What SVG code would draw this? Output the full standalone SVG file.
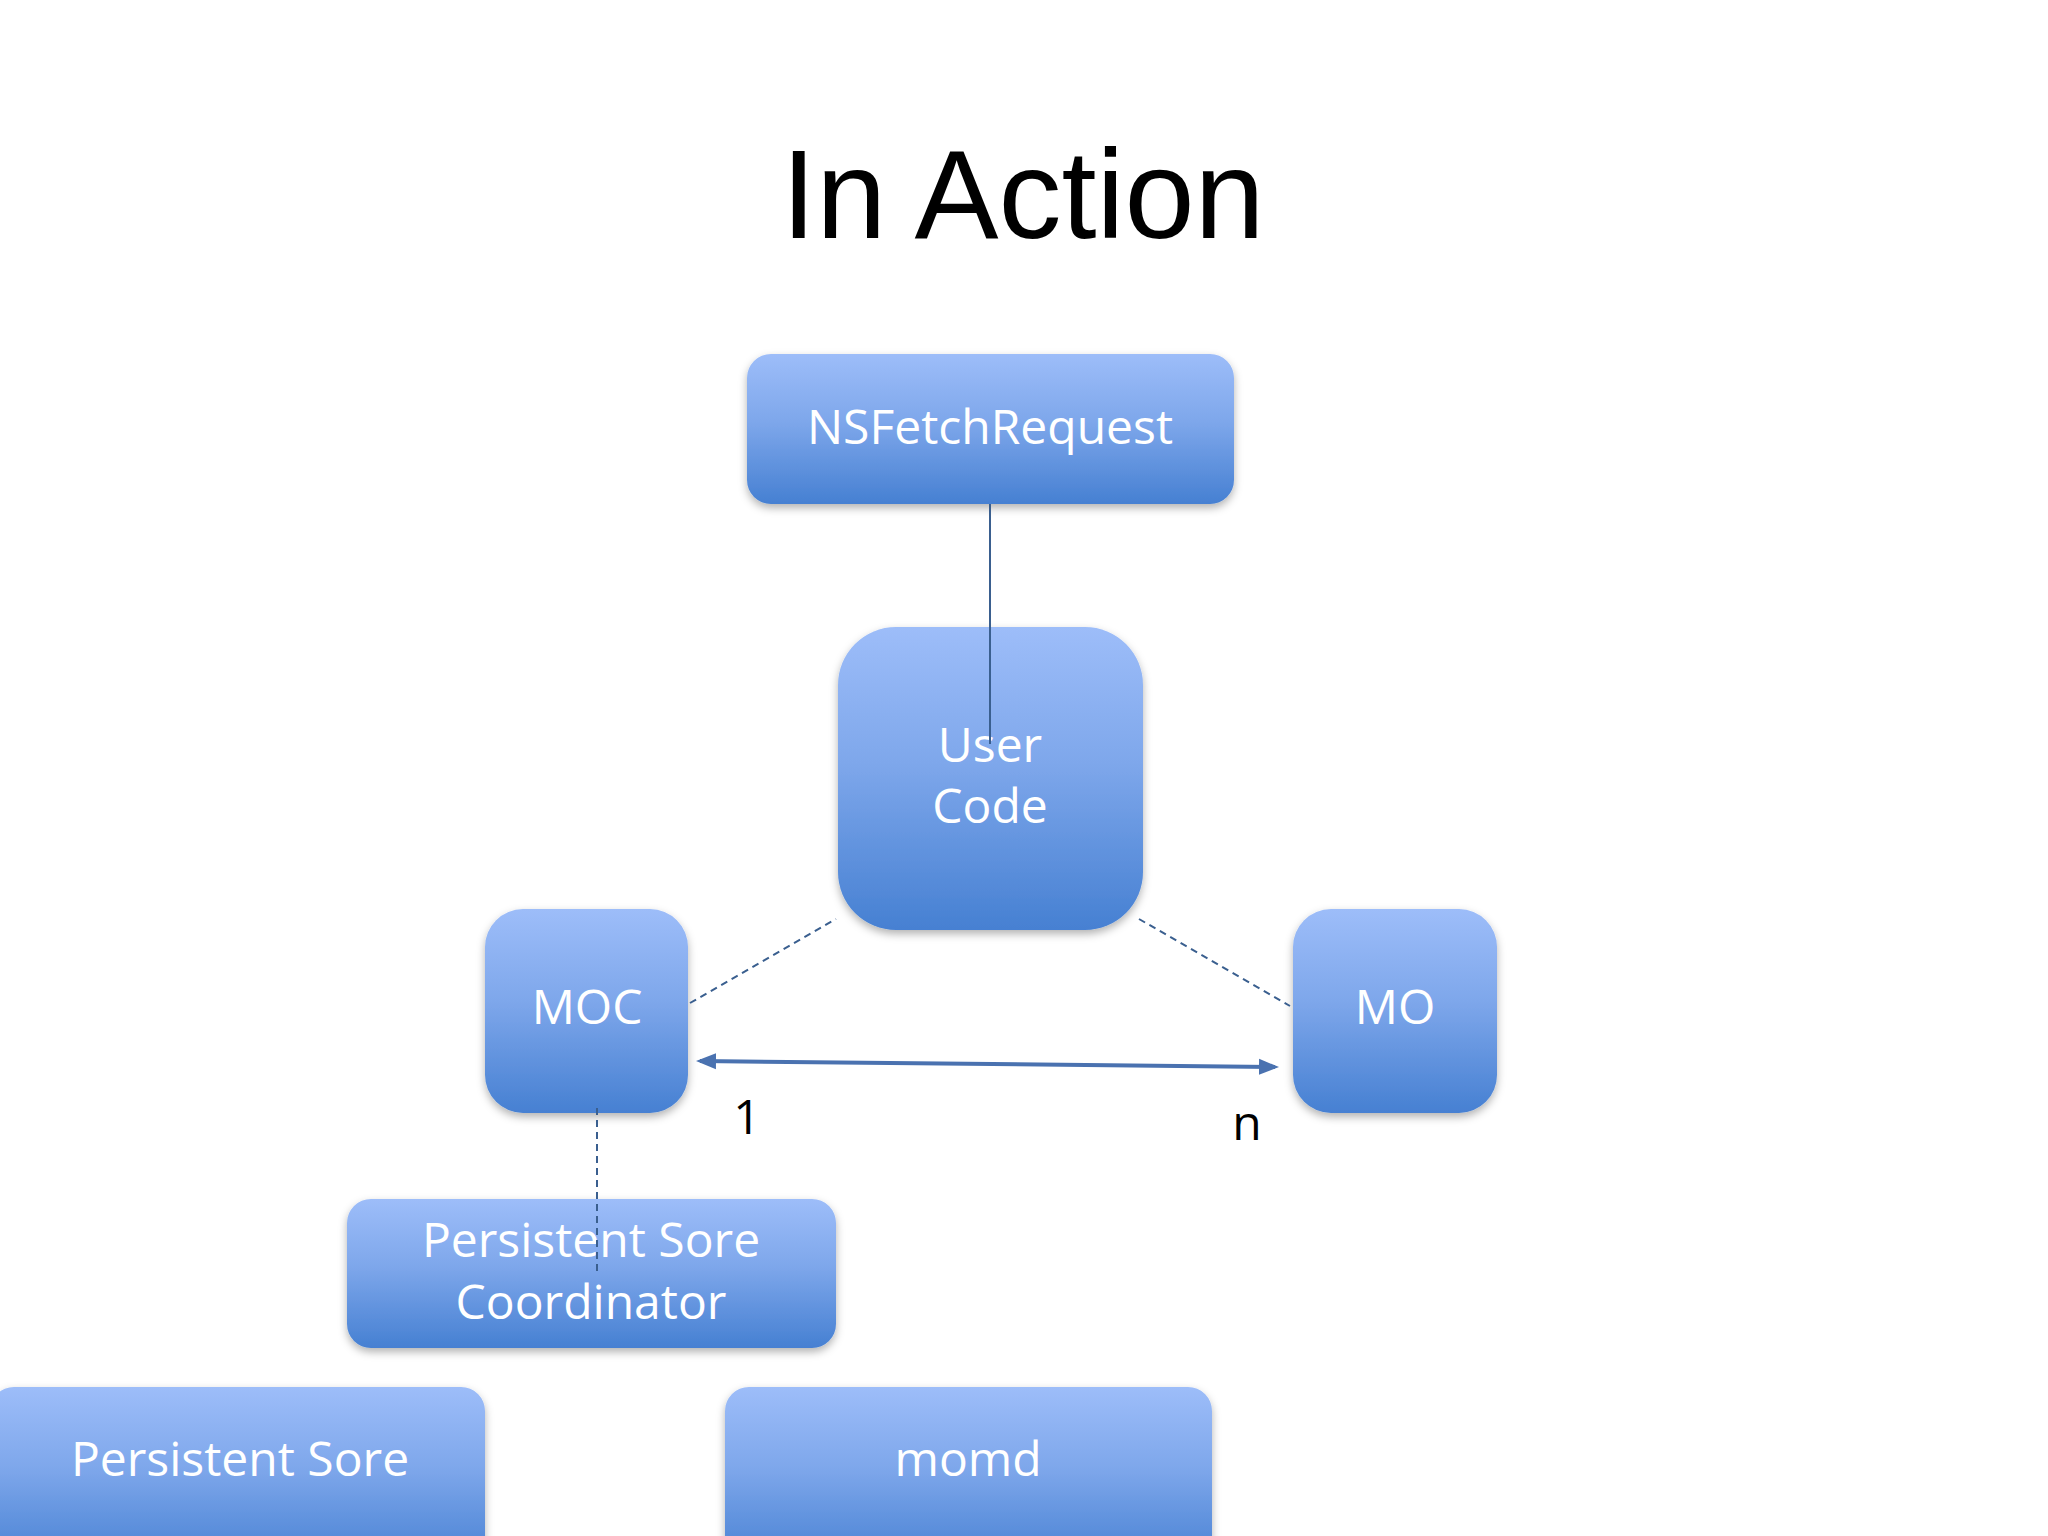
<svg xmlns="http://www.w3.org/2000/svg" width="2048" height="1536" viewBox="0 0 2048 1536">
<defs>
<linearGradient id="g" x1="0" y1="0" x2="0" y2="1">
<stop offset="0" stop-color="#9dbdf9"/><stop offset="0.45" stop-color="#7ea7eb"/><stop offset="1" stop-color="#4680d2"/>
</linearGradient>
<filter id="sh" x="-10%" y="-10%" width="120%" height="130%"><feDropShadow dx="0" dy="4" stdDeviation="4" flood-color="#000" flood-opacity="0.3"/></filter>
<marker id="ah" markerWidth="6" markerHeight="6" refX="4" refY="3" orient="auto-start-reverse" markerUnits="strokeWidth"><path d="M0,1 L5,3 L0,5 z" fill="#4a72b0"/></marker>
</defs>
<style>
.n{fill:url(#g);filter:url(#sh)}
.t{font-family:"Open Sans","Noto Sans",sans-serif;font-size:48px;fill:#fff;text-anchor:middle}
.l{font-family:"Open Sans","Noto Sans",sans-serif;font-size:48px;fill:#000;text-anchor:middle}
.d{stroke:#3a5f8f;stroke-width:2;stroke-dasharray:7,5;fill:none}
</style>
<rect width="2048" height="1536" fill="#fff"/>
<text x="1023" y="238" font-family="Liberation Sans,Arial,sans-serif" font-size="126" text-anchor="middle" fill="#000">In Action</text>
<g id="nsfetch"><rect class="n" x="747" y="354" width="487" height="150" rx="24"/><text class="t" x="990" y="444">NSFetchRequest</text></g>
<g id="usercode"><rect class="n" x="838" y="627" width="305" height="303" rx="58"/><text class="t" x="990" y="762">User</text><text class="t" x="990" y="823">Code</text></g>
<g id="moc"><rect class="n" x="485" y="909" width="203" height="204" rx="38"/><text class="t" x="587" y="1024">MOC</text></g>
<g id="mo"><rect class="n" x="1293" y="909" width="204" height="204" rx="38"/><text class="t" x="1395" y="1024">MO</text></g>
<g id="psc"><rect class="n" x="347" y="1199" width="489" height="149" rx="24"/><text class="t" x="591" y="1257">Persistent Sore</text><text class="t" x="591" y="1319">Coordinator</text></g>
<g id="ps"><rect class="n" x="-10" y="1387" width="495" height="180" rx="24"/><text class="t" x="240" y="1476">Persistent Sore</text></g>
<g id="momd"><rect class="n" x="725" y="1387" width="487" height="180" rx="24"/><text class="t" x="968" y="1476">momd</text></g>
<g id="connectors">
<line x1="990" y1="504" x2="990" y2="744" stroke="#3a5f8f" stroke-width="2"/>
<line class="d" x1="690" y1="1003" x2="836" y2="919"/>
<line class="d" x1="1139" y1="919" x2="1290" y2="1006"/>
<line class="d" x1="597" y1="1108" x2="597" y2="1273"/>
<line x1="700" y1="1061" x2="1275" y2="1067" stroke="#4a72b0" stroke-width="4" marker-start="url(#ah)" marker-end="url(#ah)"/>
<text class="l" x="747" y="1134">1</text>
<text class="l" x="1247" y="1140">n</text>
</g>
</svg>
